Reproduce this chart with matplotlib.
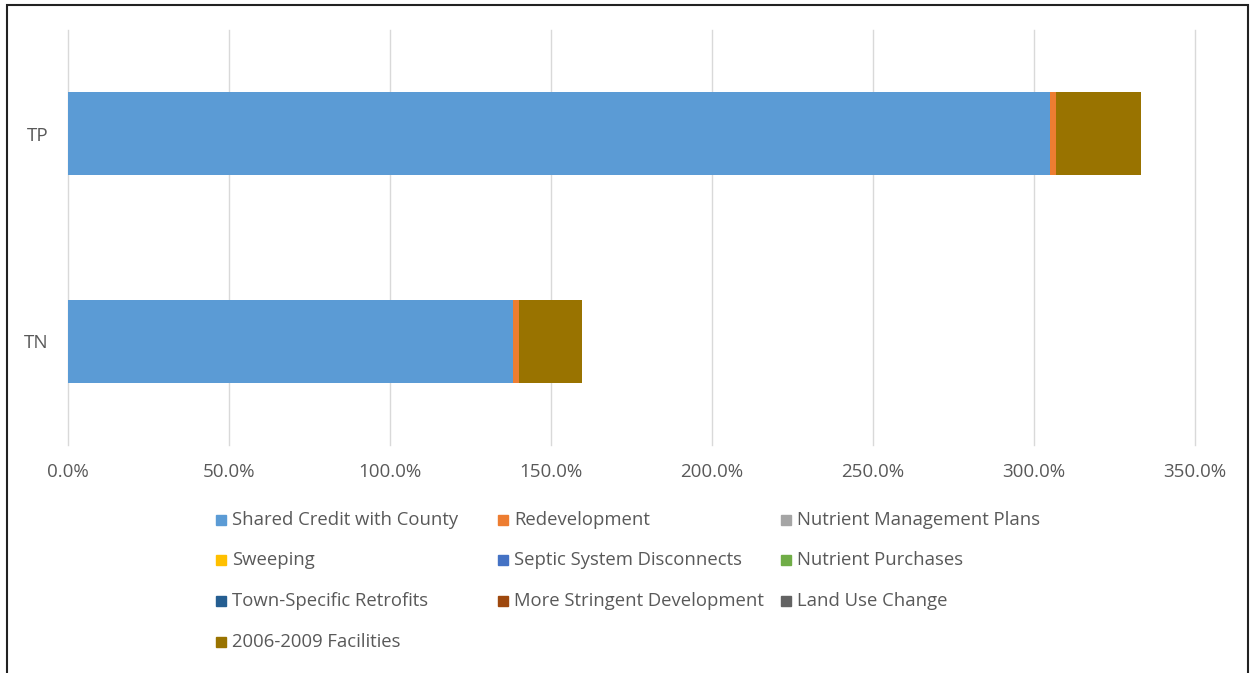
import numpy as np
import matplotlib.pyplot as plt
from matplotlib.patches import Rectangle
from matplotlib.ticker import FuncFormatter

plt.rcParams['font.family'] = ['Open Sans', 'DejaVu Sans']

# data (percent of target)
categories = ["TN", "TP"]
series = ["Shared Credit with County", "Redevelopment", "Nutrient Management Plans",
          "Sweeping", "Septic System Disconnects", "Nutrient Purchases",
          "Town-Specific Retrofits", "More Stringent Development", "Land Use Change",
          "2006-2009 Facilities"]
shared_credit = [138.3, 305.0]
redevelopment = [1.9, 1.9]
nutrient_mgmt = [0.0, 0.0]
sweeping = [0.0, 0.0]
septic = [0.0, 0.0]
nutrient_purch = [0.0, 0.0]
town_retrofits = [0.0, 0.0]
more_stringent = [0.0, 0.0]
land_use = [0.0, 0.0]
facilities = [19.3, 26.4]
values = [shared_credit, redevelopment, nutrient_mgmt, sweeping, septic,
          nutrient_purch, town_retrofits, more_stringent, land_use, facilities]
colors = ["#5B9BD5", "#ED7D31", "#A5A5A5", "#FFC000", "#4472C4",
          "#70AD47", "#255E91", "#9E480E", "#636363", "#997300"]

W, H = 1252, 673
fig = plt.figure(figsize=(W / 100, H / 100), dpi=100)
ax = fig.add_axes([68 / W, 1 - 445 / H, (1195 - 68) / W, (445 - 30) / H])

y = np.arange(len(categories))
left = np.zeros(len(categories))
for name, vals, c in zip(series, values, colors):
    ax.barh(y, vals, left=left, height=0.40, color=c, label=name, zorder=3)
    left += np.array(vals)

ax.set_xlim(0, 350)
ax.set_ylim(-0.5, 1.5)
ax.set_xticks(np.arange(0, 351, 50))
ax.xaxis.set_major_formatter(FuncFormatter(lambda v, p: "%.1f%%" % v))
ax.set_yticks(y)
ax.set_yticklabels(categories)
ax.grid(axis='x', color='#D9D9D9', linewidth=1, zorder=0)
for gl in ax.get_xgridlines():
    gl.set_clip_on(False)
for s in ax.spines.values():
    s.set_visible(False)
ax.tick_params(length=0, labelsize=13.5, colors='#595959')
ax.tick_params(axis='x', pad=13)
ax.tick_params(axis='y', pad=14)

# legend laid out row by row like the original
col_x = [216, 498, 781]
row_y = [520, 560, 601, 642]
for i, (name, c) in enumerate(zip(series, colors)):
    r, k = divmod(i, 3)
    x0, y0 = col_x[k], row_y[r]
    fig.patches.append(Rectangle((x0 / W, 1 - (y0 + 5) / H), 10 / W, 10 / H,
                                 transform=fig.transFigure, color=c))
    fig.text((x0 + 16) / W, 1 - y0 / H, name, fontsize=13.3, color='#595959',
             va='center', ha='left')

# outer frame
fig.patches.append(Rectangle((7 / W, -0.01), (1248 - 7) / W, 1 - 5 / H + 0.01,
                             transform=fig.transFigure, fill=False,
                             edgecolor='#222222', linewidth=1.5))

fig.savefig("out.png", dpi=100)
